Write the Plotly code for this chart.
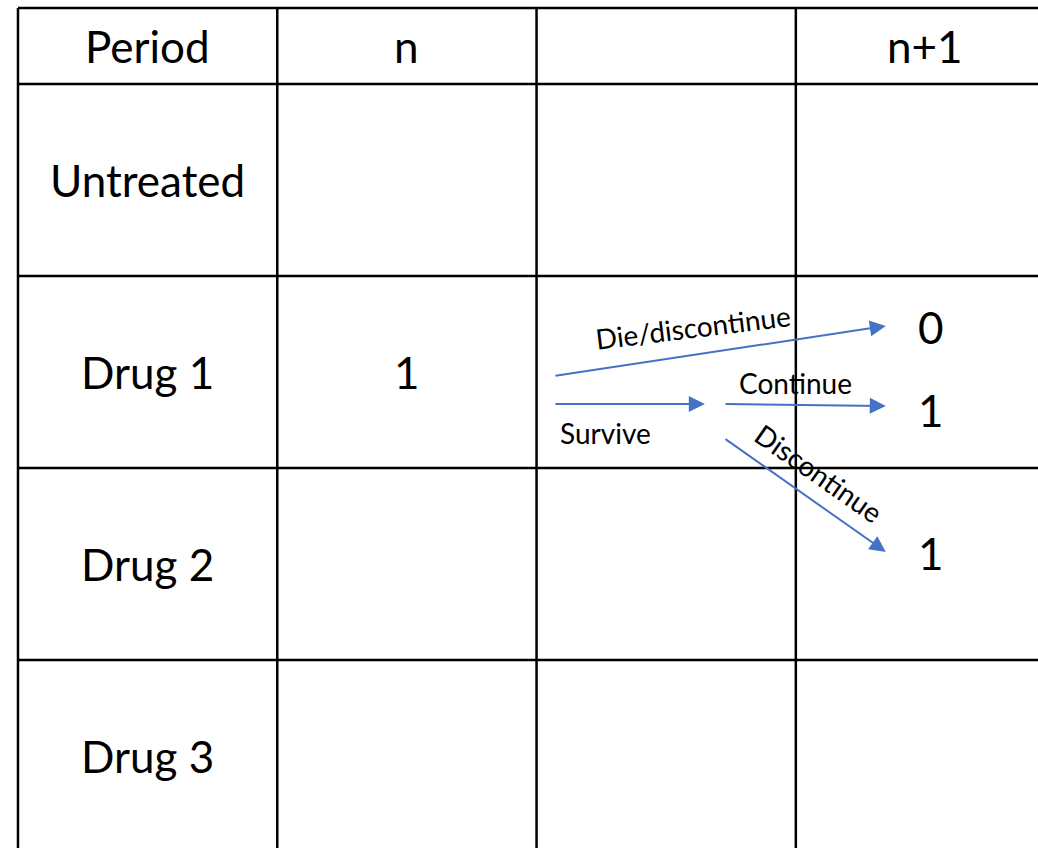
import plotly.graph_objects as go

# ---- data ----
column_headers = ["Period", "n", "", "n+1"]
row_labels = ["Untreated", "Drug 1", "Drug 2", "Drug 3"]
start_row = "Drug 1"
start_value = 1
outcome_values = [0, 1, 1]
arrow_labels = ["Die/discontinue", "Survive", "Continue", "Discontinue"]

# ---- layout constants (table units: one column = 1, one body row = 1) ----
HEADER_H = 0.396
col_edges = [0, 1, 2, 3, 4]
row_edges = [0, HEADER_H] + [HEADER_H + i + 1 for i in range(len(row_labels))]
X_RANGE = [-0.0694, 3.934]
Y_RANGE = [4.375, -0.0417]
BLUE = "#4472C4"
MAIN_FONT = dict(family="Lato, Open Sans, sans-serif", size=44, color="black")
SMALL_FONT = dict(family="Lato, Open Sans, sans-serif", size=28, color="black")

outcome_x = 3.52
outcome_y = [1.661, 2.094, 2.839]
# arrows: (tail x, tail y, head x, head y)
arrows = [
    (2.067, 1.917, 3.347, 1.656),
    (2.067, 2.0625, 2.649, 2.0625),
    (2.723, 2.0625, 3.347, 2.073),
    (2.723, 2.240, 3.347, 2.833),
]
label_pos = [(2.603, 1.662, -7), (2.264, 2.212, 0), (3.0, 1.955, 0), (3.088, 2.424, 35)]

fig = go.Figure()

shapes = []
for xe in col_edges:
    shapes.append(dict(type="line", xref="x", yref="y", x0=xe, x1=xe,
                       y0=row_edges[0], y1=row_edges[-1],
                       line=dict(color="black", width=2.5)))
for ye in row_edges:
    shapes.append(dict(type="line", xref="x", yref="y", x0=col_edges[0], x1=col_edges[-1],
                       y0=ye, y1=ye, line=dict(color="black", width=2.5)))

annotations = []
hy = HEADER_H / 2
for i, h in enumerate(column_headers):
    if h:
        annotations.append(dict(x=i + 0.5, y=hy, text=h, showarrow=False, font=MAIN_FONT))
for r, lab in enumerate(row_labels):
    yc = HEADER_H + r + 0.5
    annotations.append(dict(x=0.5, y=yc, text=lab, showarrow=False, font=MAIN_FONT))
    if lab == start_row:
        annotations.append(dict(x=1.5, y=yc, text=str(start_value), showarrow=False, font=MAIN_FONT))
for v, yv in zip(outcome_values, outcome_y):
    annotations.append(dict(x=outcome_x, y=yv, text=str(v), showarrow=False, font=MAIN_FONT))

for (tx, ty, hx, hy2) in arrows:
    annotations.append(dict(x=hx, y=hy2, ax=tx, ay=ty, xref="x", yref="y", axref="x", ayref="y",
                            text="", showarrow=True, arrowhead=2, arrowsize=1.6,
                            arrowwidth=2, arrowcolor=BLUE, standoff=0, startstandoff=0))
for lab, (lx, ly, ang) in zip(arrow_labels, label_pos):
    annotations.append(dict(x=lx, y=ly, text=lab, showarrow=False, textangle=ang, font=SMALL_FONT))

fig.update_layout(
    width=1038, height=848, autosize=False,
    margin=dict(l=0, r=0, t=0, b=0, pad=0),
    paper_bgcolor="white", plot_bgcolor="white",
    xaxis=dict(range=X_RANGE, visible=False, fixedrange=True),
    yaxis=dict(range=Y_RANGE, visible=False, fixedrange=True),
    shapes=shapes, annotations=annotations, showlegend=False,
)

fig.write_html("out.html", config={"displayModeBar": False},
               post_script="document.body.style.margin='0';document.body.style.overflow='hidden';")
